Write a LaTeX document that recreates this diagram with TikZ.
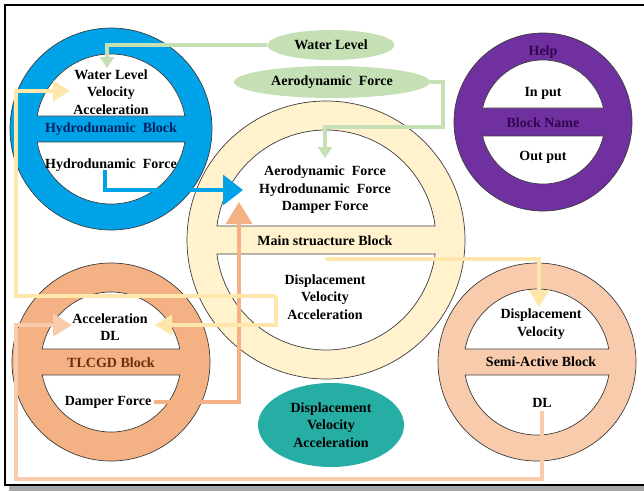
\documentclass[tikz,border=0pt]{standalone}
\usepackage{fontspec}
\setmainfont{Liberation Serif}
\usetikzlibrary{arrows.meta}
\usetikzlibrary{positioning}
\usetikzlibrary{shapes.geometric}

\definecolor{hydroblue}{RGB}{0,162,232}
\definecolor{hydrotext}{RGB}{0,32,96}
\definecolor{maincream}{RGB}{255,242,204}
\definecolor{helppurple}{RGB}{112,48,160}
\definecolor{helptext}{RGB}{50,5,80}
\definecolor{tlcgdorange}{RGB}{244,177,131}
\definecolor{tlcgdtext}{RGB}{110,45,15}
\definecolor{semipeach}{RGB}{248,203,173}
\definecolor{leafgreen}{RGB}{197,224,180}
\definecolor{respteal}{RGB}{38,174,164}
\definecolor{creamline}{RGB}{255,230,170}
\definecolor{ringline}{RGB}{60,60,60}

\tikzset{
  blocktext/.style={font=\bfseries\fontsize{14}{17.5}\selectfont, align=center, inner sep=0pt},
  link/.style={line width=3.5pt},
  greenlink/.style={link, draw=leafgreen, -{Triangle[width=14pt,length=11pt]}},
  creamlink/.style={link, draw=creamline, -{Triangle[width=20pt,length=17pt]}},
  bluelink/.style={link, draw=hydroblue, -{Triangle[width=30pt,length=20pt]}},
  orangelink/.style={link, draw=tlcgdorange, -{Triangle[width=26pt,length=22pt]}},
  peachlink/.style={link, draw=semipeach, -{Triangle[width=22pt,length=19pt]}},
  bubble/.style={ellipse, inner sep=0pt, blocktext},
}

% ring with a band across it: x, y, outer radius, inner radius, half band, colour
\newcommand{\ringblock}[6]{%
  \fill[#6, draw=ringline, line width=0.7pt] (#1,#2) circle[radius=#3];
  \pgfmathsetmacro\ringang{asin(#5/#4)}
  \draw[fill=white, draw=ringline, line width=0.7pt] (#1,#2) ++(\ringang:#4)
    arc[start angle=\ringang, end angle=180-\ringang, radius=#4] -- cycle;
  \draw[fill=white, draw=ringline, line width=0.7pt] (#1,#2) ++(180+\ringang:#4)
    arc[start angle=180+\ringang, end angle=360-\ringang, radius=#4] -- cycle;
}

\begin{document}
\begin{tikzpicture}[x=1pt, y=-1pt, every node/.style={align=center}]
    \useasboundingbox (0,0) rectangle (644,491);

    % frame
    \fill[gray!70] (9,486) rectangle (644,491);
    \draw[line width=1.5pt] (644,5) -- (5,5) -- (5,485) -- (644,485);

    % blocks
    \ringblock{111}{129}{101}{75}{13}{hydroblue}
    \ringblock{326}{240}{139}{110}{14}{maincream}
    \ringblock{543}{122}{89}{62}{14}{helppurple}
    \ringblock{111}{362}{99}{70}{13}{tlcgdorange}
    \ringblock{537}{362}{99}{73}{13}{semipeach}

    % inputs and response
    \node[bubble, fill=leafgreen, minimum width=127pt, minimum height=30pt] (water) at (331,45) {Water Level};
    \node[bubble, fill=leafgreen, minimum width=196pt, minimum height=32pt] (aero) at (332,82) {Aerodynamic\ \ Force};
    \node[bubble, fill=respteal, minimum width=146pt, minimum height=84pt] (resp) at (331,425) {Displacement\\Velocity\\Acceleration};

    % points on the blocks
    \coordinate (hydInTip) at (70,91);
    \coordinate (hydTip) at (107,68);
    \coordinate (hydStart) at (105,170);
    \coordinate (hydBend) at (16,91);
    \coordinate (mainTip) at (325,158);
    \coordinate (aeroBend) at (443,127);
    \coordinate (mainHydTip) at (243,190);
    \coordinate (mainDampTip) at (239,202);
    \coordinate (mainOutL) at (276,296);
    \coordinate (mainOutR) at (325,259);
    \coordinate (tlcgdInTip) at (155,325);
    \coordinate (tlcgdDLTip) at (72,325);
    \coordinate (semiInTip) at (539,307);
    \coordinate (dlCorner) at (16,479);

    % text in the blocks
    \node[blocktext] (hydIn) at (111,92) {Water Level\\Velocity\\Acceleration};
    \node[blocktext, text=hydrotext] (hydName) at (111,129) {Hydrodunamic\ \ Block};
    \node[blocktext] (hydOut) at (111,165) {Hydrodunamic\ \ Force};

    \node[blocktext] (mainIn) at (325,190) {Aerodynamic\ \ Force\\Hydrodunamic\ \ Force\\Damper Force};
    \node[blocktext] (mainName) at (325,241) {Main\ struacture\ Block};
    \node[blocktext] (mainOut) at (325,297) {Displacement\\Velocity\\Acceleration};

    \node[blocktext, text=helptext] (helpTitle) at (543,52) {Help};
    \node[blocktext] (helpIn) at (543,93) {In put};
    \node[blocktext, text=helptext] (helpName) at (543,123) {Block Name};
    \node[blocktext] (helpOut) at (543,157) {Out put};

    \node[blocktext] (tlcgdIn) at (110,327) {Acceleration\\DL};
    \node[blocktext, text=tlcgdtext] (tlcgdName) at (111,363) {TLCGD Block};
    \node[blocktext] (tlcgdOut) at (108,402) {Damper\ Force};

    \node[blocktext] (semiIn) at (541,324) {Displacement\\Velocity};
    \node[blocktext] (semiName) at (541,362) {Semi-Active Block};
    \node[blocktext] (semiOut) at (542,403) {DL};

    % connectors
    \draw[greenlink] (water.west) -| (hydTip);
    \draw[greenlink] (aero.east) -| (aeroBend) -| (mainTip);
    \draw[bluelink] (hydStart) |- (mainHydTip);
    \draw[orangelink] ([xshift=3pt]tlcgdOut.east) -| (mainDampTip);
    \draw[creamlink] (mainOutL) -| (hydBend) -- (hydInTip);
    \draw[creamlink] (mainOutL) |- (tlcgdInTip);
    \draw[creamlink] (mainOutR) -| (semiInTip);
    \draw[peachlink] ([yshift=-3pt]semiOut.south) |- (dlCorner) |- (tlcgdDLTip);
\end{tikzpicture}
\end{document}
